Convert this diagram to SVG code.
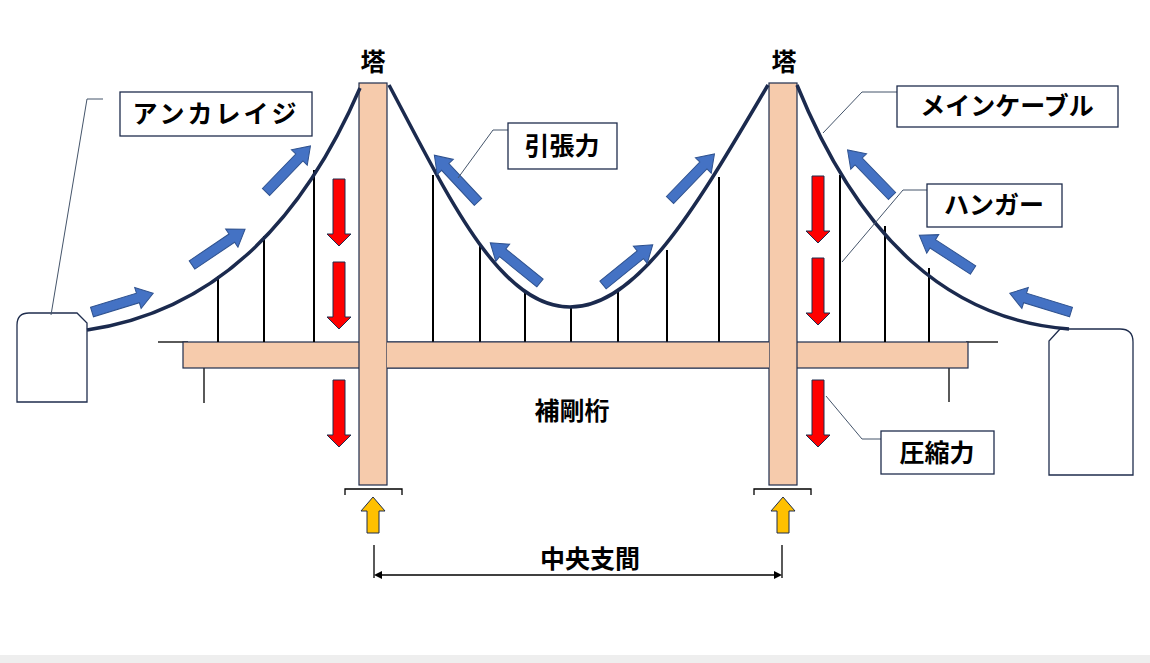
<svg xmlns="http://www.w3.org/2000/svg" width="1150" height="663" viewBox="0 0 1150 663">
<defs>
<style>
.pier{fill:#f6cbac;stroke:#1f2d4d;stroke-width:1.2}
.cable{fill:none;stroke:#1b2a4e;stroke-width:3.5}
.hg{stroke:#000;stroke-width:2}
.thin{stroke:#000;stroke-width:1.3;fill:none}
.call{stroke:#44546a;stroke-width:1;fill:none}
.box{fill:#fff;stroke:#1f2d4d;stroke-width:1.3}
.lbl{font-family:"Noto Sans CJK JP",sans-serif;font-weight:bold;font-size:25px;fill:#000}
.blue{fill:#4472c4;stroke:#2f528f;stroke-width:1}
.red{fill:#ff0000;stroke:#1f2d4d;stroke-width:1}
.yel{fill:#ffc000;stroke:#1f2d4d;stroke-width:1}
.anc{fill:#fff;stroke:#1f2d4d;stroke-width:1.3}
</style>
<g id="ba"><polygon class="blue" points="0,-5 48,-5 48,-11 64,0 48,11 48,5 0,5"/></g>
<g id="ra"><polygon class="red" points="-6,0 6,0 6,55 12,55 0,67 -12,55 -6,55"/></g>
<g id="ya"><polygon class="yel" points="-6,36 6,36 6,14 12,14 0,0 -12,14 -6,14"/></g>
</defs>
<rect width="1150" height="663" fill="#fff"/>
<rect x="0" y="655" width="1150" height="8" fill="#eeeeee"/>
<g id="anchorage-left"><path class="anc" d="M17,402 V325 Q17,313 29,313 H77 L87,323 V402 Z"/></g>
<g id="anchorage-right"><path class="anc" d="M1049,475 V341 L1060,329 H1120 Q1133,329 1133,342 V475 Z"/></g>
<g id="deck">
<line class="thin" x1="158" y1="342" x2="188" y2="342"/>
<line class="thin" x1="966" y1="342" x2="998" y2="342"/>
<line class="thin" x1="204" y1="368" x2="204" y2="403"/>
<line class="thin" x1="949" y1="368" x2="949" y2="402"/>
<rect class="pier" x="183" y="342" width="785" height="26"/>
</g>
<g id="hangers">
<line class="hg" x1="218" y1="276" x2="218" y2="342"/>
<line class="hg" x1="264" y1="236" x2="264" y2="342"/>
<line class="hg" x1="314" y1="170" x2="314" y2="342"/>
<line class="hg" x1="433" y1="175" x2="433" y2="342"/>
<line class="hg" x1="480" y1="245" x2="480" y2="342"/>
<line class="hg" x1="525" y1="290" x2="525" y2="342"/>
<line class="hg" x1="571" y1="307" x2="571" y2="342"/>
<line class="hg" x1="618" y1="292" x2="618" y2="342"/>
<line class="hg" x1="667" y1="250" x2="667" y2="342"/>
<line class="hg" x1="719" y1="177" x2="719" y2="342"/>
<line class="hg" x1="840" y1="175" x2="840" y2="342"/>
<line class="hg" x1="885" y1="226" x2="885" y2="342"/>
<line class="hg" x1="929" y1="268" x2="929" y2="342"/>
</g>
<g id="tower-left"><rect class="pier" x="359" y="83" width="28" height="402"/></g>
<g id="tower-right"><rect class="pier" x="769" y="83" width="28" height="402"/></g>
<rect class="pier" x="387" y="342" width="382" height="26" style="stroke:none"/>
<line x1="387" y1="342" x2="769" y2="342" stroke="#1f2d4d" stroke-width="1.2"/>
<line x1="387" y1="368" x2="769" y2="368" stroke="#1f2d4d" stroke-width="1.2"/>
<g id="cables">
<path class="cable" d="M87,330 C190,315 290,250 360,88"/>
<path class="cable" d="M389,85 C450,200 500,307 570,307 C640,307 700,200 768,85"/>
<path class="cable" d="M797,85 C860,240 950,320 1069,329"/>
</g>
<g id="tension-arrows">
<use href="#ba" transform="translate(92,312) rotate(-17)"/>
<use href="#ba" transform="translate(192,265) rotate(-34)"/>
<use href="#ba" transform="translate(266,192) rotate(-46)"/>
<use href="#ba" transform="translate(478,202) rotate(-133)"/>
<use href="#ba" transform="translate(540,283) rotate(-141)"/>
<use href="#ba" transform="translate(603,285) rotate(-39)"/>
<use href="#ba" transform="translate(670,200) rotate(-46)"/>
<use href="#ba" transform="translate(892,196) rotate(-134)"/>
<use href="#ba" transform="translate(973,270) rotate(-147)"/>
<use href="#ba" transform="translate(1071,312) rotate(-163)"/>
</g>
<g id="compression-arrows">
<use href="#ra" transform="translate(339,179)"/>
<use href="#ra" transform="translate(339,262)"/>
<use href="#ra" transform="translate(339,380)"/>
<use href="#ra" transform="translate(818,176)"/>
<use href="#ra" transform="translate(818,258)"/>
<use href="#ra" transform="translate(818,380)"/>
</g>
<g id="supports">
<path class="thin" d="M345,495 V489 H402 V495"/>
<path class="thin" d="M754,495 V489 H811 V495"/>
<use href="#ya" transform="translate(373,497)"/>
<use href="#ya" transform="translate(783,497)"/>
</g>
<g id="span">
<line class="thin" x1="374" y1="545" x2="374" y2="578"/>
<line class="thin" x1="782" y1="545" x2="782" y2="578"/>
<line class="thin" x1="380" y1="575" x2="776" y2="575"/>
<polygon points="374,575 382,571 382,579"/>
<polygon points="782,575 774,571 774,579"/>
<text class="lbl" x="590" y="568" text-anchor="middle">中央支間</text>
</g>
<g id="callouts">
<polyline class="call" points="103,99 87,99 51,315"/>
<polyline class="call" points="508,130 493,130 458,178"/>
<polyline class="call" points="897,92 862,92 823,133"/>
<polyline class="call" points="927,190 903,190 842,262"/>
<polyline class="call" points="881,439 862,439 826,396"/>
</g>
<g id="labels">
<text class="lbl" x="373" y="71" text-anchor="middle">塔</text>
<text class="lbl" x="784" y="71" text-anchor="middle">塔</text>
<rect class="box" x="120" y="92" width="192" height="44"/>
<text class="lbl" x="216" y="123" text-anchor="middle" letter-spacing="3">アンカレイジ</text>
<rect class="box" x="508" y="123" width="109" height="46"/>
<text class="lbl" x="562" y="155" text-anchor="middle">引張力</text>
<rect class="box" x="897" y="86" width="221" height="41"/>
<text class="lbl" x="1007" y="115" text-anchor="middle">メインケーブル</text>
<rect class="box" x="927" y="184" width="135" height="43"/>
<text class="lbl" x="994" y="214" text-anchor="middle">ハンガー</text>
<rect class="box" x="881" y="431" width="113" height="43"/>
<text class="lbl" x="937" y="462" text-anchor="middle">圧縮力</text>
<text class="lbl" x="572" y="420" text-anchor="middle">補剛桁</text>
</g>
</svg>
